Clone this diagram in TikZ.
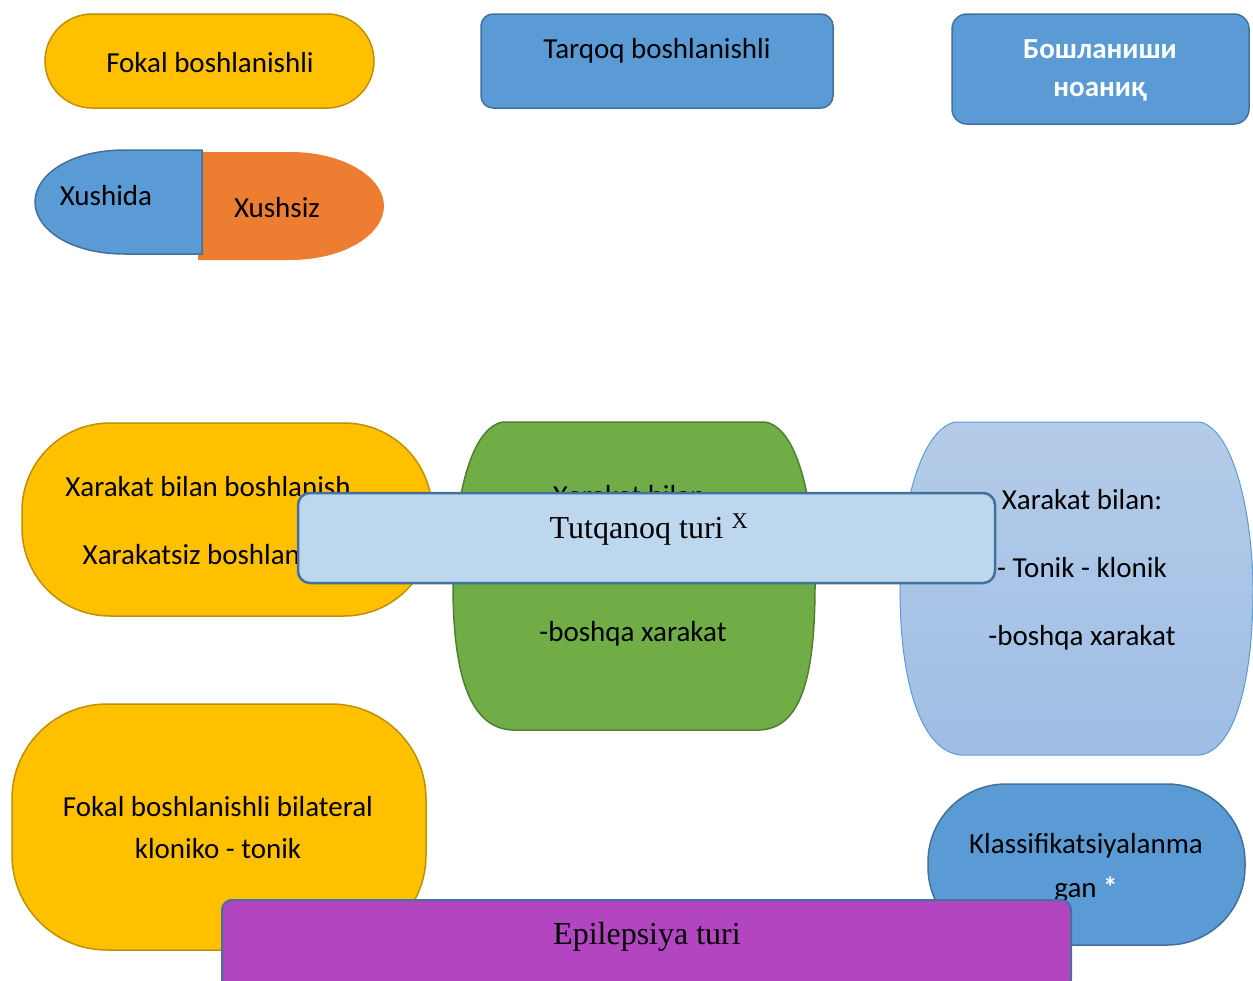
\documentclass[tikz,border=0pt]{standalone}
\usepackage{fontspec}
\setmainfont{Carlito}
\newfontfamily\timesfont{Liberation Serif}
\usepackage{tikz}
\usetikzlibrary{positioning}

\definecolor{amber}{HTML}{FFC000}
\definecolor{amberline}{HTML}{BF9000}
\definecolor{sky}{HTML}{5B9BD5}
\definecolor{skyline}{HTML}{41719C}
\definecolor{carrot}{HTML}{ED7D31}
\definecolor{leaf}{HTML}{70AD47}
\definecolor{leafline}{HTML}{507E32}
\definecolor{pale}{HTML}{BDD7EE}
\definecolor{paletop}{HTML}{B4CCE9}
\definecolor{palebot}{HTML}{9FBDE4}
\definecolor{plum}{HTML}{B245C0}

\begin{document}
\begin{tikzpicture}[x=1pt, y=-1pt, line width=1.5pt,
	txt/.style={font=\fontsize{29}{42}\selectfont, align=center, inner sep=0pt, text height=21pt, text depth=7pt},
	wide/.style={txt, font=\fontsize{29}{68}\selectfont},
	serif/.style={font=\timesfont\fontsize{32}{40}\selectfont, inner sep=0pt, text height=21pt, text depth=7pt}]
	\useasboundingbox (0,0) rectangle (1253,980);

	% top row
	\draw [fill=amber, draw=amberline, rounded corners=47] (45,14) rectangle (374,108);
	\node[txt] (fokal) at (210,65) {Fokal boshlanishli};
	\draw [fill=sky, draw=skyline, rounded corners=12] (481,14) rectangle (833,108);
	\node[txt] (tarqoq) at (657,51) {Tarqoq boshlanishli};
	\draw [fill=sky, draw=skyline, rounded corners=15] (952,14) rectangle (1249,124);
	\node[txt, text=white, font=\bfseries\fontsize{29}{38}\selectfont] (noanik) at (1100,89) {Бошланиши\\ноаниқ};

	% xushida / xushsiz
	\fill [carrot] (198,152) -- (290,152) .. controls (345,152) and (384,178) .. (384,206)
		.. controls (384,234) and (345,260) .. (290,260) -- (198,260) -- cycle;
	\node[txt] (xushsiz) at (277,210) {Xushsiz};
	\draw [fill=sky, draw=skyline] (202,150) -- (125,150) .. controls (70,150) and (35,175) .. (35,202)
		.. controls (35,229) and (70,254) .. (125,254) -- (202,254) -- cycle;
	\node[txt] (xushida) at (106,198) {Xushida};

	% middle row
	\draw [fill=amber, draw=amberline, rounded corners=88] (22,423) rectangle (432,616);
	\node[wide] (harakat) at (208,557) {Xarakat bilan boshlanish\\Xarakatsiz boshlanish};
	\draw [fill=leaf, draw=leafline] (503,422) -- (765,422) .. controls (800,428) and (815,510) .. (815,585)
		.. controls (815,680) and (800,728) .. (760,730) -- (512,730) .. controls (472,728) and (453,680) .. (453,585)
		.. controls (453,510) and (468,428) .. (503,422) -- cycle;
	\node[wide] (umumiy) at (633,634) {Xarakat bilan:\\- Tonik - klonik\\-boshqa xarakat};
	\draw [top color=paletop, bottom color=palebot, draw=sky, line width=1pt] (955,422) -- (1200,422)
		.. controls (1235,430) and (1253,520) .. (1253,590) .. controls (1253,680) and (1235,750) .. (1200,755)
		-- (960,755) .. controls (920,750) and (900,680) .. (900,590) .. controls (900,510) and (920,430) .. (955,422) -- cycle;
	\node[wide] (nomalum) at (1082,638) {Xarakat bilan:\\- Tonik - klonik\\-boshqa xarakat};
	\draw [fill=pale, draw=skyline, line width=2.5pt, rounded corners=12] (298,493) rectangle (995,583);
	\node[serif] (tutqanoq) at (649,531) {Tutqanoq turi \textsuperscript{X}};

	% bottom row
	\draw [fill=amber, draw=amberline, rounded corners=95] (12,704) rectangle (426,950);
	\node[txt] (bilateral) at (218,851) {Fokal boshlanishli bilateral\\kloniko - tonik};
	\draw [fill=sky, draw=skyline, rounded corners=78] (928,784) rectangle (1245,945);
	\node[txt, font=\fontsize{29}{44}\selectfont] (klass) at (1086,890) {Klassifikatsiyalanma\\gan \textcolor{white}{\bfseries *}};
	\draw [fill=plum, draw=skyline, line width=2pt, rounded corners=10] (222,900) rectangle (1071,990);
	\node[serif] (epilepsiya) at (647,937) {Epilepsiya turi};
\end{tikzpicture}
\end{document}
